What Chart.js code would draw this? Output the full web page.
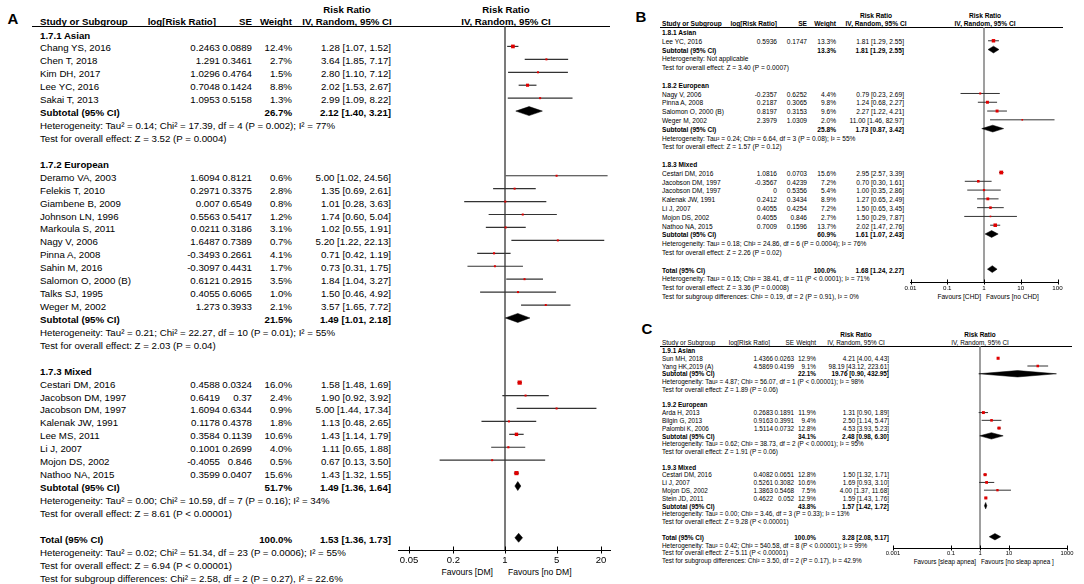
<!DOCTYPE html>
<html lang="en">
<head>
<meta charset="UTF-8">
<title>Forest plots: risk ratio by subgroup</title>
<script src="https://cdn.jsdelivr.net/npm/chart.js"></script>
<style>
  body { margin: 0; background: #fff; color: #000; font-family: "Liberation Sans", Arial, sans-serif; }
  #page { position: relative; width: 1084px; height: 584px; overflow: hidden; }
  .t { position: absolute; white-space: nowrap; line-height: 1; transform: translateY(-50%); }
  .t.r { transform: translate(-100%, -50%); }
  .t.c { transform: translate(-50%, -50%); }
  .t.b { font-weight: bold; }
  .rule { position: absolute; height: 0; border-top: 1px solid #000; }
  canvas { position: absolute; }
</style>
</head>
<body>
<div id="page"></div>
<script>
  // ---------- Panel A (1.7) ----------
  const aGroups = ['1.7.1 Asian', '1.7.2 European', '1.7.3 Mixed'];
  const aGroupOf = [0, 0, 0, 0, 0, 1, 1, 1, 1, 1, 1, 1, 1, 1, 1, 1, 2, 2, 2, 2, 2, 2, 2, 2];
  const aStudies = ['Chang YS, 2016', 'Chen T, 2018', 'Kim DH, 2017', 'Lee YC, 2016', 'Sakai T, 2013',
    'Deramo VA, 2003', 'Felekis T, 2010', 'Giambene B, 2009', 'Johnson LN, 1996', 'Markoula S, 2011', 'Nagy V, 2006',
    'Pinna A, 2008', 'Sahin M, 2016', 'Salomon O, 2000 (B)', 'Talks SJ, 1995', 'Weger M, 2002',
    'Cestari DM, 2016', 'Jacobson DM, 1997', 'Jacobson DM, 1997', 'Kalenak JW, 1991', 'Lee MS, 2011', 'Li J, 2007',
    'Mojon DS, 2002', 'Nathoo NA, 2015'];
  const aLogRR = [0.2463, 1.291, 1.0296, 0.7048, 1.0953, 1.6094, 0.2971, 0.007, 0.5563, 0.0211, 1.6487, -0.3493, -0.3097,
    0.6121, 0.4055, 1.273, 0.4588, 0.6419, 1.6094, 0.1178, 0.3584, 0.1001, -0.4055, 0.3599];
  const aSE = [0.0889, 0.3461, 0.4764, 0.1424, 0.5158, 0.8121, 0.3375, 0.6549, 0.5417, 0.3186, 0.7389, 0.2661, 0.4431,
    0.2915, 0.6065, 0.3933, 0.0324, 0.37, 0.6344, 0.4378, 0.1139, 0.2699, 0.846, 0.0407];
  const aWeight = [12.4, 2.7, 1.5, 8.8, 1.3, 0.6, 2.8, 0.8, 1.2, 3.1, 0.7, 4.1, 1.7, 3.5, 1.0, 2.1, 16.0, 2.4, 0.9, 1.8, 10.6, 4.0, 0.5, 15.6];
  const aRR = [1.28, 3.64, 2.80, 2.02, 2.99, 5.00, 1.35, 1.01, 1.74, 1.02, 5.20, 0.71, 0.73, 1.84, 1.50, 3.57, 1.58, 1.90, 5.00, 1.13, 1.43, 1.11, 0.67, 1.43];
  const aLo = [1.07, 1.85, 1.10, 1.53, 1.09, 1.02, 0.69, 0.28, 0.60, 0.55, 1.22, 0.42, 0.31, 1.04, 0.46, 1.65, 1.48, 0.92, 1.44, 0.48, 1.14, 0.65, 0.13, 1.32];
  const aHi = [1.52, 7.17, 7.12, 2.67, 8.22, 24.56, 2.61, 3.63, 5.04, 1.91, 22.13, 1.19, 1.75, 3.27, 4.92, 7.72, 1.69, 3.92, 17.34, 2.65, 1.79, 1.88, 3.50, 1.55];
  const aSubWeight = [26.7, 21.5, 51.7];
  const aSubRR = [2.12, 1.49, 1.49];
  const aSubLo = [1.40, 1.01, 1.36];
  const aSubHi = [3.21, 2.18, 1.64];
  const aHet = ['Heterogeneity: Tau² = 0.14; Chi² = 17.39, df = 4 (P = 0.002); I² = 77%',
    'Heterogeneity: Tau² = 0.21; Chi² = 22.27, df = 10 (P = 0.01); I² = 55%',
    'Heterogeneity: Tau² = 0.00; Chi² = 10.59, df = 7 (P = 0.16); I² = 34%'];
  const aTest = ['Test for overall effect: Z = 3.52 (P = 0.0004)', 'Test for overall effect: Z = 2.03 (P = 0.04)',
    'Test for overall effect: Z = 8.61 (P < 0.00001)'];
  const aTotal = [100.0, 1.53, 1.36, 1.73];
  const aTotalText = ['Heterogeneity: Tau² = 0.02; Chi² = 51.34, df = 23 (P = 0.0006); I² = 55%',
    'Test for overall effect: Z = 6.94 (P < 0.00001)',
    'Test for subgroup differences: Chi² = 2.58, df = 2 (P = 0.27), I² = 22.6%'];
  const aTicks = [0.05, 0.2, 1, 5, 20];
  const aFavours = ['Favours [DM]', 'Favours [no DM]'];

  // ---------- Panel B (1.8) ----------
  const bGroups = ['1.8.1 Asian', '1.8.2 European', '1.8.3 Mixed'];
  const bGroupOf = [0, 1, 1, 1, 1, 2, 2, 2, 2, 2, 2, 2];
  const bStudies = ['Lee YC, 2016', 'Nagy V, 2006', 'Pinna A, 2008', 'Salomon O, 2000 (B)', 'Weger M, 2002',
    'Cestari DM, 2016', 'Jacobson DM, 1997', 'Jacobson DM, 1997', 'Kalenak JW, 1991', 'Li J, 2007', 'Mojon DS, 2002', 'Nathoo NA, 2015'];
  const bLogRR = [0.5936, -0.2357, 0.2187, 0.8197, 2.3979, 1.0816, -0.3567, 0, 0.2412, 0.4055, 0.4055, 0.7009];
  const bSE = [0.1747, 0.6252, 0.3065, 0.3153, 1.0309, 0.0703, 0.4239, 0.5356, 0.3434, 0.4254, 0.846, 0.1596];
  const bWeight = [13.3, 4.4, 9.8, 9.6, 2.0, 15.6, 7.2, 5.4, 8.9, 7.2, 2.7, 13.7];
  const bRR = [1.81, 0.79, 1.24, 2.27, 11.00, 2.95, 0.70, 1.00, 1.27, 1.50, 1.50, 2.02];
  const bLo = [1.29, 0.23, 0.68, 1.22, 1.46, 2.57, 0.30, 0.35, 0.65, 0.65, 0.29, 1.47];
  const bHi = [2.55, 2.69, 2.27, 4.21, 82.97, 3.39, 1.61, 2.86, 2.49, 3.45, 7.87, 2.76];
  const bSubWeight = [13.3, 25.8, 60.9];
  const bSubRR = [1.81, 1.73, 1.61];
  const bSubLo = [1.29, 0.87, 1.07];
  const bSubHi = [2.55, 3.42, 2.43];
  const bHet = ['Heterogeneity: Not applicable',
    'Heterogeneity: Tau² = 0.24; Chi² = 6.64, df = 3 (P = 0.08); I² = 55%',
    'Heterogeneity: Tau² = 0.18; Chi² = 24.86, df = 6 (P = 0.0004); I² = 76%'];
  const bTest = ['Test for overall effect: Z = 3.40 (P = 0.0007)', 'Test for overall effect: Z = 1.57 (P = 0.12)',
    'Test for overall effect: Z = 2.26 (P = 0.02)'];
  const bTotal = [100.0, 1.68, 1.24, 2.27];
  const bTotalText = ['Heterogeneity: Tau² = 0.15; Chi² = 38.41, df = 11 (P < 0.0001); I² = 71%',
    'Test for overall effect: Z = 3.36 (P = 0.0008)',
    'Test for subgroup differences: Chi² = 0.19, df = 2 (P = 0.91), I² = 0%'];
  const bTicks = [0.01, 0.1, 1, 10, 100];
  const bFavours = ['Favours [CHD]', 'Favours [no CHD]'];

  // ---------- Panel C (1.9) ----------
  const cGroups = ['1.9.1 Asian', '1.9.2 European', '1.9.3 Mixed'];
  const cGroupOf = [0, 0, 1, 1, 1, 2, 2, 2, 2];
  const cStudies = ['Sun MH, 2018', 'Yang HK,2019 (A)', 'Arda H, 2013', 'Bilgin G, 2013', 'Palombi K, 2006',
    'Cestari DM, 2016', 'Li J, 2007', 'Mojon DS, 2002', 'Stein JD, 2011'];
  const cLogRR = [1.4366, 4.5869, 0.2683, 0.9163, 1.5114, 0.4082, 0.5261, 1.3863, 0.4622];
  const cSE = [0.0263, 0.4199, 0.1891, 0.3991, 0.0732, 0.0651, 0.3082, 0.5468, 0.052];
  const cWeight = [12.9, 9.1, 11.9, 9.4, 12.8, 12.8, 10.6, 7.5, 12.9];
  const cRR = [4.21, 98.19, 1.31, 2.50, 4.53, 1.50, 1.69, 4.00, 1.59];
  const cLo = [4.00, 43.12, 0.90, 1.14, 3.93, 1.32, 0.93, 1.37, 1.43];
  const cHi = [4.43, 223.61, 1.89, 5.47, 5.23, 1.71, 3.10, 11.68, 1.76];
  const cSubWeight = [22.1, 34.1, 43.8];
  const cSubRR = [19.76, 2.48, 1.57];
  const cSubLo = [0.90, 0.98, 1.42];
  const cSubHi = [432.95, 6.30, 1.72];
  const cHet = ['Heterogeneity: Tau² = 4.87; Chi² = 56.07, df = 1 (P < 0.00001); I² = 98%',
    'Heterogeneity: Tau² = 0.62; Chi² = 38.73, df = 2 (P < 0.00001); I² = 95%',
    'Heterogeneity: Tau² = 0.00; Chi² = 3.46, df = 3 (P = 0.33); I² = 13%'];
  const cTest = ['Test for overall effect: Z = 1.89 (P = 0.06)', 'Test for overall effect: Z = 1.91 (P = 0.06)',
    'Test for overall effect: Z = 9.28 (P < 0.00001)'];
  const cTotal = [100.0, 3.28, 2.08, 5.17];
  const cTotalText = ['Heterogeneity: Tau² = 0.42; Chi² = 540.58, df = 8 (P < 0.00001); I² = 99%',
    'Test for overall effect: Z = 5.11 (P < 0.00001)',
    'Test for subgroup differences: Chi² = 3.50, df = 2 (P = 0.17), I² = 42.9%'];
  const cTicks = [0.001, 0.1, 1, 10, 1000];
  const cFavours = ['Favours [sleap apnea]', 'Favours [no sleap apnea ]'];

  // ---------- layout (page pixels) ----------
  const layA = {
    label: 'A', labelX: 13, labelY: 17.5, labelSize: 15, font: 9.7, headBold: true,
    textX: 40, logHead: 216, logX: 220, seX: 252, wX: 292, rrX: 391, rrCenter: 347, plotHead: 506,
    head1: 9.5, head2: 22, ruleY: 26, ruleX0: 32, ruleX1: 610,
    firstRow: 35.5, step: 12.93, markOff: -2,
    plotX0: 398, plotX1: 610, oneX: 505, decade: 73.8, axisY: 550,
    tickFont: 9.5, tickPad: 4.3, tickHalf: 3.5,
    favFont: 8.6, favY: 572, favGapL: 12, favGapR: 3,
    sqScale: 1.05, sqMin: 2, dh: 4.5, ciW: 1.2, ciColor: '#333', refColor: '#444', refW: 1.4
  };
  const layB = {
    label: 'B', labelX: 641, labelY: 15.5, labelSize: 15, font: 6.6, headBold: true,
    textX: 662, logHead: 777, logX: 777, seX: 807, wX: 836, rrX: 904, rrCenter: 876, plotHead: 985,
    head1: 15.5, head2: 23.5, ruleY: 26.5, ruleX0: 660, ruleX1: 1063,
    firstRow: 33, step: 8.8, markOff: -1.5,
    plotX0: 910, plotX1: 1057, oneX: 984, decade: 36.75, axisY: 282,
    tickFont: 6.2, tickPad: 2.3, tickHalf: 2.5,
    favFont: 6.6, favY: 297, favGapL: 3, favGapR: 2,
    sqScale: 0.95, sqMin: 1.6, dh: 3.4, ciW: 1, ciColor: '#333', refColor: '#888', refW: 1.6
  };
  const layC = {
    label: 'C', labelX: 647, labelY: 328, labelSize: 15, font: 6.4, headBold: false,
    textX: 662, logHead: 770, logX: 773, seX: 794, wX: 816, rrX: 889, rrCenter: 856, plotHead: 980,
    head1: 335, head2: 343, ruleY: 345.5, ruleX0: 660, ruleX1: 1072,
    firstRow: 351, step: 7.78, markOff: -1,
    plotX0: 893, plotX1: 1067, oneX: 980, decade: 29, axisY: 548,
    tickFont: 5.8, tickPad: 1.5, tickHalf: 2.5,
    favFont: 6.3, favY: 562, favGapL: 4, favGapR: 1,
    sqScale: 0.85, sqMin: 1.6, dh: 3.2, ciW: 1, ciColor: '#333', refColor: '#888', refW: 1.6
  };

  Chart.defaults.font.family = '"Liberation Sans", Arial, sans-serif';
  const page = document.getElementById('page');

  function addText(txt, x, y, size, align, bold) {
    const d = document.createElement('div');
    d.className = 't' + (align === 'right' ? ' r' : align === 'center' ? ' c' : '') + (bold ? ' b' : '');
    d.style.left = x + 'px';
    d.style.top = y + 'px';
    d.style.fontSize = size + 'px';
    d.textContent = txt;
    page.appendChild(d);
  }

  function addRule(x0, x1, y) {
    const d = document.createElement('div');
    d.className = 'rule';
    d.style.left = x0 + 'px';
    d.style.width = (x1 - x0) + 'px';
    d.style.top = y + 'px';
    page.appendChild(d);
  }

  function ci(rr, lo, hi) {
    return rr.toFixed(2) + ' [' + lo.toFixed(2) + ', ' + hi.toFixed(2) + ']';
  }

  // tick marks that cross the axis line, like RevMan draws them
  const crossTicks = {
    id: 'crossTicks',
    afterDraw(chart, args, opts) {
      const sx = chart.scales.x;
      const yb = chart.chartArea.bottom;
      const ctx = chart.ctx;
      ctx.save();
      ctx.strokeStyle = '#000';
      ctx.lineWidth = 1;
      sx.ticks.forEach(t => {
        const px = Math.round(sx.getPixelForValue(t.value)) + 0.5;
        ctx.beginPath();
        ctx.moveTo(px, yb - opts.half);
        ctx.lineTo(px, yb + opts.half);
        ctx.stroke();
      });
      ctx.restore();
    }
  };

  function drawForest(P, L, pts, cis, dia) {
    const padX = 24, padTop = 4, axisH = 22;
    const w = L.plotX1 - L.plotX0 + 2 * padX;
    const h = L.axisY - L.ruleY + padTop + axisH;
    const cv = document.createElement('canvas');
    cv.width = w;
    cv.height = h;
    cv.style.left = (L.plotX0 - padX) + 'px';
    cv.style.top = (L.ruleY - padTop) + 'px';
    cv.style.width = w + 'px';
    cv.style.height = h + 'px';
    page.appendChild(cv);

    const datasets = [];
    datasets.push({
      data: pts.map(p => ({ x: p.x, y: p.y })),
      pointStyle: 'rect',
      pointRadius: pts.map(p => Math.max(L.sqMin, L.sqScale * Math.sqrt(p.w)) / Math.SQRT2),
      backgroundColor: '#e00000', borderColor: '#e00000', pointBorderWidth: 0, showLine: false
    });
    dia.forEach(d => datasets.push({
      data: [{ x: d.lo, y: d.y }, { x: d.est, y: d.y - L.dh }, { x: d.hi, y: d.y }, { x: d.est, y: d.y + L.dh }, { x: d.lo, y: d.y }],
      showLine: true, fill: 'shape', backgroundColor: '#000', borderColor: '#000', borderWidth: 0.5, pointRadius: 0
    }));
    cis.forEach(c => datasets.push({
      data: [{ x: c.lo, y: c.y }, { x: c.hi, y: c.y }],
      showLine: true, borderColor: L.ciColor, backgroundColor: L.ciColor, borderWidth: L.ciW, pointRadius: 0
    }));
    datasets.push({
      data: [{ x: 1, y: L.ruleY }, { x: 1, y: L.axisY }],
      showLine: true, borderColor: L.refColor, backgroundColor: L.refColor, borderWidth: L.refW, pointRadius: 0
    });

    new Chart(cv, {
      type: 'scatter',
      data: { datasets },
      plugins: [crossTicks],
      options: {
        responsive: false,
        animation: false,
        events: [],
        layout: { padding: { left: padX, right: padX, top: padTop, bottom: 0 } },
        plugins: { legend: { display: false }, tooltip: { enabled: false }, crossTicks: { half: L.tickHalf } },
        scales: {
          x: {
            type: 'logarithmic',
            bounds: 'data',
            min: Math.pow(10, (L.plotX0 - L.oneX) / L.decade),
            max: Math.pow(10, (L.plotX1 - L.oneX) / L.decade),
            afterBuildTicks: s => { s.ticks = P.ticks.map(v => ({ value: v })); },
            afterFit: s => { s.height = axisH; },
            ticks: {
              autoSkip: false, maxRotation: 0, color: '#000', padding: L.tickPad,
              font: { size: L.tickFont }, callback: v => String(v)
            },
            grid: { display: false, drawTicks: false },
            border: { display: true, color: '#000', width: 1 }
          },
          y: { type: 'linear', display: false, reverse: true, min: L.ruleY, max: L.axisY }
        }
      }
    });
  }

  function buildPanel(P, L) {
    const fs = L.font;
    const hb = L.headBold;
    addText(L.label, L.labelX, L.labelY, L.labelSize, 'center', true);
    addText('Risk Ratio', L.rrCenter, L.head1, fs, 'center', true);
    addText('Risk Ratio', L.plotHead, L.head1, fs, 'center', true);
    addText('Study or Subgroup', L.textX, L.head2, fs, 'left', hb);
    addText('log[Risk Ratio]', L.logHead, L.head2, fs, 'right', hb);
    addText('SE', L.seX, L.head2, fs, 'right', hb);
    addText('Weight', L.wX, L.head2, fs, 'right', hb);
    addText('IV, Random, 95% CI', L.rrCenter, L.head2, fs, 'center', hb);
    addText('IV, Random, 95% CI', L.plotHead, L.head2, fs, 'center', hb);
    addRule(L.ruleX0, L.ruleX1, L.ruleY);

    const pts = [], cis = [], dia = [];
    let y = L.firstRow;
    P.groups.forEach((g, gi) => {
      addText(g, L.textX, y, fs, 'left', true);
      y += L.step;
      P.studies.forEach((s, i) => {
        if (P.groupOf[i] !== gi) return;
        addText(s, L.textX, y, fs);
        addText(String(P.logRR[i]), L.logX, y, fs, 'right');
        addText(String(P.se[i]), L.seX, y, fs, 'right');
        addText(P.weight[i].toFixed(1) + '%', L.wX, y, fs, 'right');
        addText(ci(P.rr[i], P.lo[i], P.hi[i]), L.rrX, y, fs, 'right');
        pts.push({ x: P.rr[i], y: y + L.markOff, w: P.weight[i] });
        cis.push({ lo: P.lo[i], hi: P.hi[i], y: y + L.markOff });
        y += L.step;
      });
      addText('Subtotal (95% CI)', L.textX, y, fs, 'left', true);
      addText(P.subWeight[gi].toFixed(1) + '%', L.wX, y, fs, 'right', true);
      addText(ci(P.subRR[gi], P.subLo[gi], P.subHi[gi]), L.rrX, y, fs, 'right', true);
      dia.push({ est: P.subRR[gi], lo: P.subLo[gi], hi: P.subHi[gi], y: y + L.markOff });
      y += L.step;
      addText(P.het[gi], L.textX, y, fs);
      y += L.step;
      addText(P.test[gi], L.textX, y, fs);
      y += 2 * L.step;
    });
    addText('Total (95% CI)', L.textX, y, fs, 'left', true);
    addText(P.total[0].toFixed(1) + '%', L.wX, y, fs, 'right', true);
    addText(ci(P.total[1], P.total[2], P.total[3]), L.rrX, y, fs, 'right', true);
    dia.push({ est: P.total[1], lo: P.total[2], hi: P.total[3], y: y + L.markOff });
    y += L.step;
    P.totalText.forEach(t => { addText(t, L.textX, y, fs); y += L.step; });

    addText(P.favours[0], L.oneX - L.favGapL, L.favY, L.favFont, 'right');
    addText(P.favours[1], L.oneX + L.favGapR, L.favY, L.favFont, 'left');

    drawForest(P, L, pts, cis, dia);
  }

  buildPanel({
    groups: aGroups, groupOf: aGroupOf, studies: aStudies, logRR: aLogRR, se: aSE, weight: aWeight,
    rr: aRR, lo: aLo, hi: aHi, subWeight: aSubWeight, subRR: aSubRR, subLo: aSubLo, subHi: aSubHi,
    het: aHet, test: aTest, total: aTotal, totalText: aTotalText, ticks: aTicks, favours: aFavours
  }, layA);
  buildPanel({
    groups: bGroups, groupOf: bGroupOf, studies: bStudies, logRR: bLogRR, se: bSE, weight: bWeight,
    rr: bRR, lo: bLo, hi: bHi, subWeight: bSubWeight, subRR: bSubRR, subLo: bSubLo, subHi: bSubHi,
    het: bHet, test: bTest, total: bTotal, totalText: bTotalText, ticks: bTicks, favours: bFavours
  }, layB);
  buildPanel({
    groups: cGroups, groupOf: cGroupOf, studies: cStudies, logRR: cLogRR, se: cSE, weight: cWeight,
    rr: cRR, lo: cLo, hi: cHi, subWeight: cSubWeight, subRR: cSubRR, subLo: cSubLo, subHi: cSubHi,
    het: cHet, test: cTest, total: cTotal, totalText: cTotalText, ticks: cTicks, favours: cFavours
  }, layC);
</script>
</body>
</html>
